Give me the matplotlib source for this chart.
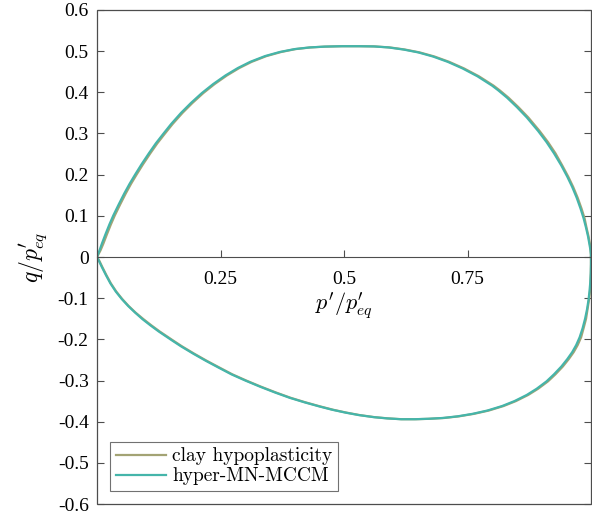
import matplotlib
matplotlib.use("Agg")
from matplotlib import pyplot as plt
from matplotlib.patches import Rectangle

plt.rcParams['mathtext.fontset'] = 'cm'
plt.rcParams['axes.unicode_minus'] = False

# upper branch (q > 0), same q levels for both models
q_up = [0.000, 0.016, 0.033, 0.055, 0.079, 0.101, 0.128, 0.154, 0.178, 0.200,
        0.225, 0.252, 0.276, 0.299, 0.323, 0.350, 0.374, 0.398, 0.420, 0.441,
        0.459, 0.474, 0.488, 0.498, 0.505, 0.509, 0.511, 0.512, 0.512, 0.5115,
        0.509, 0.504, 0.497, 0.487, 0.474, 0.458, 0.439, 0.416, 0.405, 0.387,
        0.364, 0.339, 0.306, 0.279, 0.252, 0.222, 0.195, 0.170, 0.144, 0.117,
        0.094, 0.071, 0.050, 0.030, 0.016, 0.006, 0.000]
p_up_mn = [0.000, 0.005, 0.010, 0.017, 0.025, 0.033, 0.044, 0.055, 0.066, 0.077,
           0.090, 0.105, 0.119, 0.134, 0.150, 0.170, 0.190, 0.212, 0.235, 0.260,
           0.285, 0.310, 0.340, 0.370, 0.400, 0.430, 0.460, 0.495, 0.530, 0.560,
           0.590, 0.620, 0.650, 0.680, 0.710, 0.740, 0.770, 0.800, 0.812, 0.830,
           0.850, 0.870, 0.893, 0.910, 0.925, 0.940, 0.952, 0.962, 0.971, 0.979,
           0.985, 0.990, 0.994, 0.997, 0.999, 0.9998, 1.000]
p_up_hypo = [0.000, 0.007, 0.013, 0.020, 0.028, 0.036, 0.047, 0.058, 0.069, 0.080,
             0.093, 0.108, 0.122, 0.137, 0.153, 0.173, 0.193, 0.215, 0.238, 0.263,
             0.288, 0.313, 0.343, 0.373, 0.402, 0.432, 0.462, 0.497, 0.532, 0.562,
             0.593, 0.623, 0.653, 0.683, 0.713, 0.743, 0.773, 0.803, 0.815, 0.833,
             0.853, 0.873, 0.896, 0.913, 0.928, 0.942, 0.954, 0.964, 0.973, 0.981,
             0.987, 0.991, 0.995, 0.998, 0.9993, 0.9999, 1.000]

# lower branch (q < 0)
q_lo = [0.000, -0.010, -0.025, -0.044, -0.064, -0.084, -0.102, -0.119, -0.135, -0.151,
        -0.166, -0.181, -0.202, -0.217, -0.235, -0.252, -0.268, -0.285, -0.300, -0.315,
        -0.329, -0.342, -0.353, -0.363, -0.371, -0.378, -0.384, -0.389, -0.392, -0.394,
        -0.394, -0.393, -0.391, -0.387, -0.381, -0.373, -0.362, -0.350, -0.335, -0.320,
        -0.302, -0.285, -0.266, -0.248, -0.231, -0.214, -0.195, -0.173, -0.150, -0.127,
        -0.104, -0.083, -0.062, -0.040, -0.018, 0.000]
p_lo_mn = [0.000, 0.004, 0.010, 0.018, 0.027, 0.038, 0.050, 0.063, 0.077, 0.092,
           0.108, 0.125, 0.151, 0.170, 0.195, 0.220, 0.245, 0.272, 0.300, 0.330,
           0.360, 0.390, 0.420, 0.450, 0.476, 0.503, 0.530, 0.560, 0.587, 0.615,
           0.643, 0.670, 0.700, 0.730, 0.760, 0.790, 0.820, 0.845, 0.870, 0.890,
           0.910, 0.925, 0.940, 0.952, 0.962, 0.970, 0.977, 0.983, 0.988, 0.992,
           0.995, 0.997, 0.9985, 0.9995, 0.99995, 1.000]
p_lo_hypo = [0.000, 0.005, 0.011, 0.019, 0.028, 0.039, 0.051, 0.064, 0.078, 0.094,
             0.110, 0.127, 0.153, 0.172, 0.197, 0.222, 0.247, 0.274, 0.302, 0.332,
             0.362, 0.392, 0.422, 0.452, 0.478, 0.505, 0.532, 0.562, 0.589, 0.617,
             0.646, 0.673, 0.703, 0.733, 0.763, 0.793, 0.823, 0.848, 0.873, 0.893,
             0.913, 0.928, 0.943, 0.955, 0.965, 0.973, 0.980, 0.985, 0.990, 0.993,
             0.996, 0.998, 0.9990, 0.9997, 0.99997, 1.000]

xticks = [0.25, 0.5, 0.75]
yticks = [-0.6, -0.5, -0.4, -0.3, -0.2, -0.1, 0, 0.1, 0.2, 0.3, 0.4, 0.5, 0.6]
ytick_labels = ["-0.6", "-0.5", "-0.4", "-0.3", "-0.2", "-0.1", "0",
                "0.1", "0.2", "0.3", "0.4", "0.5", "0.6"]

c_hypo = "#a3a374"
c_mn = "#45b5aa"
gray = "#4d4d4d"

fig = plt.figure(figsize=(5.92, 5.17), dpi=100)
ax = fig.add_axes([0.1639, 0.0251, 0.8344, 0.9556])

ax.plot(p_up_hypo, q_up, color=c_hypo, lw=1.6, label="clay hypoplasticity")
ax.plot(p_lo_hypo, q_lo, color=c_hypo, lw=1.6)
ax.plot(p_up_mn, q_up, color=c_mn, lw=1.6, label="hyper-MN-MCCM")
ax.plot(p_lo_mn, q_lo, color=c_mn, lw=1.6)

ax.set_xlim(0, 1)
ax.set_ylim(-0.6, 0.6)

for s in ['top', 'right', 'left']:
    ax.spines[s].set_visible(False)
ax.spines['bottom'].set_position(('data', 0))
ax.spines['bottom'].set_color(gray)
ax.spines['bottom'].set_linewidth(0.8)
ax.add_patch(Rectangle((0, 0), 1, 1, transform=ax.transAxes, fill=False,
                       edgecolor=gray, lw=0.9, clip_on=False, zorder=5))

ax.set_xticks(xticks)
ax.set_xticklabels(["0.25", "0.5", "0.75"], family="Liberation Serif", fontsize=14)
ax.set_yticks(yticks)
ax.set_yticklabels(ytick_labels, family="Liberation Serif", fontsize=14)
ax.tick_params(axis='x', direction='in', length=5, color=gray, pad=10)
ax.tick_params(axis='y', direction='in', length=5, color=gray, right=True, pad=6)

ax.text(0.5, -0.118, r"$p^{\prime}/p^{\prime}_{eq}$", fontsize=16,
        ha='center', va='center')
ax.set_ylabel(r"$q/p^{\prime}_{eq}$", fontsize=17, labelpad=6)

leg = ax.legend(loc='lower left', bbox_to_anchor=(0.026, 0.026), borderaxespad=0,
                prop={'family': 'cmr10', 'size': 14}, fancybox=False,
                handlelength=2.6, handletextpad=0.3, borderpad=0.3, labelspacing=0.1)
leg.get_frame().set_edgecolor(gray)
leg.get_frame().set_linewidth(0.8)

fig.savefig("out.png", dpi=100)
